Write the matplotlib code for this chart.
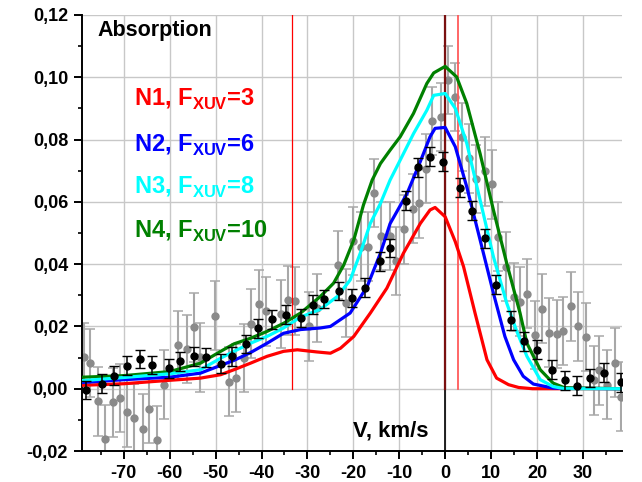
import matplotlib
matplotlib.use('Agg')
import matplotlib.pyplot as plt
from matplotlib.ticker import MultipleLocator, FuncFormatter

# observed absorption, black points (small errors)
bx = [-78.3, -74.8, -72.1, -69.2, -66.4, -63.8, -60.1, -57.8, -54.6, -52.1,
      -48.8, -46.4, -43.3, -40.8, -37.7, -34.6, -31.5, -28.8, -26.3, -23.2,
      -20.4, -17.4, -14.3, -12.1, -8.5, -5.9, -3.3, -0.5, 3.3, 5.9,
      8.7, 11.1, 14.3, 17.1, 20.1, 23.2, 26.1, 28.6, 31.5, 34.6, 38.2]
by = [-0.0004, 0.0016, 0.0042, 0.0074, 0.0095, 0.0076, 0.0066, 0.0088, 0.0104, 0.0101,
      0.0080, 0.0104, 0.0144, 0.0194, 0.0223, 0.0238, 0.0227, 0.0270, 0.0288, 0.0314,
      0.0291, 0.0325, 0.0409, 0.0452, 0.0604, 0.0711, 0.0745, 0.0729, 0.0646, 0.0572,
      0.0483, 0.0334, 0.0220, 0.0152, 0.0125, 0.0061, 0.0027, 0.0010, 0.0034, 0.0052, 0.0020]
berr = 0.003

# observed absorption, gray points (large errors)
gx = [-78.6, -77.3, -75.6, -74.1, -72.3, -70.9, -69.3, -67.8, -65.9, -64.5,
      -62.8, -61.2, -58.1, -56.3, -54.8, -53.3, -50.2, -47.1, -45.5, -43.8,
      -42.2, -40.6, -39.1, -35.8, -34.3, -32.6, -29.6, -28.0, -23.4, -21.5,
      -20.1, -18.3, -16.8, -15.4, -13.9, -12.0, -10.7, -8.9, -7.1, -5.7,
      -4.1, -2.8, -0.9, 0.7, 2.2, 3.7, 5.2, 6.7, 8.7, 10.1,
      11.6, 13.3, 14.9, 16.4, 17.8, 19.5, 21.1, 22.7, 24.3, 25.7,
      27.3, 28.9, 30.6, 32.3, 33.5, 35.2, 37.0, 38.2]
gy = [0.0101, 0.0082, -0.0041, -0.0161, -0.0044, -0.0030, -0.0076, -0.0094, -0.0128, -0.0064,
      -0.0166, 0.0013, 0.0139, 0.0127, 0.0197, 0.0101, 0.0235, 0.0023, 0.0034, 0.0099,
      0.0209, 0.0271, 0.0248, 0.0240, 0.0284, 0.0282, 0.0200, 0.0259, 0.0397, 0.0275,
      0.0474, 0.0456, 0.0456, 0.0629, 0.0490, 0.0490, 0.0410, 0.0512, 0.0578, 0.0595,
      0.0707, 0.0860, 0.0873, 0.0992, 0.0937, 0.0808, 0.0740, 0.0674, 0.0698, 0.0656,
      0.0488, 0.0392, 0.0295, 0.0280, 0.0305, 0.0172, 0.0257, 0.0180, 0.0176, 0.0186,
      0.0264, 0.0200, 0.0166, 0.0027, 0.0059, 0.0013, 0.0084, -0.0025]
gerr = 0.011

# model curves
n1_x = [-79, -70, -60, -53.3, -48.9, -46, -42.4, -38.8, -35.2, -32.2, -27.9, -25, -22.8, -19.9,
        -16.3, -12.7, -9.1, -5.4, -3.3, -2.2, 0, 2.2, 4.0, 6.5, 9.1, 11.2, 13.8, 16, 19, 38.5]
n1_y = [0.0011, 0.0016, 0.0027, 0.0034, 0.0045, 0.0061, 0.0082, 0.0104, 0.0120, 0.0125, 0.0118,
        0.0114, 0.0130, 0.0168, 0.0243, 0.0323, 0.0435, 0.0531, 0.0574, 0.0582, 0.0552, 0.0472,
        0.0392, 0.0243, 0.0093, 0.0034, 0.0013, 0.0004, 0.0, 0.0]

n2_x = [-79, -70, -60, -53.3, -48.9, -46, -42.4, -38.8, -35.2, -31.5, -27.2, -25, -20.7,
        -17, -14.1, -12, -8.3, -5.4, -3.3, -2.2, 0, 2.2, 4.7, 7.6, 10.5, 13, 14.9, 17, 19.2,
        23.5, 38.5]
n2_y = [0.0020, 0.0029, 0.0037, 0.0050, 0.0075, 0.0091, 0.0116, 0.0146, 0.0178, 0.0190, 0.0195,
        0.0200, 0.0243, 0.0328, 0.0435, 0.0530, 0.0627, 0.0730, 0.0809, 0.0836, 0.0839,
        0.0777, 0.0648, 0.0478, 0.0307, 0.0168, 0.0093, 0.0040, 0.0015, 0.0002, 0.0]

n3_x = [-79, -70, -60, -53.3, -48.9, -46, -42.4, -38.8, -35.2, -31.5, -27.2, -23.5, -20.7,
        -18.5, -16.3, -14.1, -12, -9.8, -6.9, -4, -2.5, 0, 2.2, 4.7, 7.6, 10.5, 13.4, 15.6,
        17.8, 20.7, 23.5, 26, 38.5]
n3_y = [0.0026, 0.0036, 0.0048, 0.0061, 0.0098, 0.0120, 0.0146, 0.0168, 0.0195, 0.0230, 0.0255,
        0.0296, 0.0349, 0.0435, 0.0531, 0.0595, 0.0670, 0.0734, 0.0819, 0.0894, 0.0942, 0.0948,
        0.0900, 0.0788, 0.0606, 0.0424, 0.0275, 0.0184, 0.0104, 0.0029, 0.0007, 0.0, 0.0]

n4_x = [-79, -70, -60, -53.3, -48.9, -46, -42.4, -38.8, -35.2, -31.5, -27.2, -24.3, -22.1,
        -19.9, -17.8, -15.9, -14.1, -12, -9.8, -6.9, -4, -2.5, 0, 2.5, 4.7, 7.6, 10.5, 13.4,
        16.3, 17.8, 20.7, 23.5, 26, 38.5]
n4_y = [0.0037, 0.0042, 0.0055, 0.0082, 0.0120, 0.0144, 0.0162, 0.0184, 0.0210, 0.0243, 0.0296,
        0.0339, 0.0397, 0.0478, 0.0590, 0.0670, 0.0723, 0.0766, 0.0809, 0.0884, 0.0980, 0.1014,
        0.1035, 0.1001, 0.0916, 0.0755, 0.0574, 0.0403, 0.0243, 0.0146, 0.0061, 0.0018, 0.0003,
        0.0]

labels = ['N1', 'N2', 'N3', 'N4']
fxuv = ['3', '6', '8', '10']
colors = ['#ff0000', '#0000ff', '#00ffff', '#008000']

# vertical marker lines (km/s)
red_lines = [-33.3, 2.8]

plt.rcParams['font.family'] = ['Liberation Sans', 'DejaVu Sans']
plt.rcParams['font.weight'] = 'bold'
plt.rcParams['mathtext.fontset'] = 'custom'
plt.rcParams['mathtext.rm'] = 'Liberation Sans:bold'
plt.rcParams['mathtext.bf'] = 'Liberation Sans:bold'

fig = plt.figure(figsize=(6.42, 4.82), dpi=100)
ax = fig.add_axes([0.1277, 0.0643, 0.8411, 0.9046])

ax.set_xlim(-79.1, 38.5)
ax.set_ylim(-0.02, 0.12)

ax.grid(True, color='#c8c8c8', lw=1.0, zorder=0)
ax.set_axisbelow(True)

# gray data behind the curves
ax.errorbar(gx, gy, yerr=gerr, fmt='o', color='#8a8a8a', ms=5, ecolor='#a8a8a8',
            elinewidth=1.5, capsize=3.5, capthick=1.1, zorder=2)

# reference lines
ax.plot([0, 0], [-0.02, 0], color='black', lw=1.2, zorder=3)
ax.plot([0, 0], [0, 0.12], color='#7a1010', lw=1.6, zorder=3)
ax.plot([red_lines[0]] * 2, [0, 0.12], color='#ff0000', lw=0.9, zorder=3)
ax.plot([red_lines[1]] * 2, [0, 0.12], color='#ff5a5a', lw=1.3, zorder=3)

curves = [(n1_x, n1_y), (n2_x, n2_y), (n4_x, n4_y), (n3_x, n3_y)]
ccols = [colors[0], colors[1], colors[3], colors[2]]
for (cx, cy), c in zip(curves, ccols):
    ax.plot(cx, cy, color=c, lw=2.3, zorder=4, solid_joinstyle='round')

# black data on top
ax.errorbar(bx, by, yerr=berr, fmt='o', color='black', ms=5, ecolor='black',
            elinewidth=1.1, capsize=3.5, capthick=1.0, zorder=5)

# axes styling
for s in ['top', 'right']:
    ax.spines[s].set_visible(False)
for s in ['left', 'bottom']:
    ax.spines[s].set_linewidth(1.4)
ax.xaxis.set_major_locator(MultipleLocator(10))
ax.xaxis.set_minor_locator(MultipleLocator(5))
ax.yaxis.set_major_locator(MultipleLocator(0.02))
ax.yaxis.set_minor_locator(MultipleLocator(0.01))
ax.yaxis.set_major_formatter(FuncFormatter(lambda v, p: ('%.2f' % v).replace('.', ',')))
ax.xaxis.set_major_formatter(FuncFormatter(lambda v, p: '%d' % round(v)))
ax.tick_params(which='major', direction='out', length=6, width=1.4, labelsize=13, pad=4)
ax.tick_params(which='minor', direction='out', length=3, width=1.2)

ax.text(-75.7, 0.1131, 'Absorption', fontsize=15.5, fontweight='bold', color='black')
ax.text(-20, -0.0153, 'V, km/s', fontsize=16, fontweight='bold', color='black')

leg_y = [0.0907, 0.0761, 0.0627, 0.0483]
for lab, f, c, yy in zip(labels, fxuv, colors, leg_y):
    ax.text(-67.8, yy, lab + r', F$_{\mathbf{XUV}}$=' + f, fontsize=17,
            fontweight='bold', color=c)

plt.savefig('out.png', dpi=100)
